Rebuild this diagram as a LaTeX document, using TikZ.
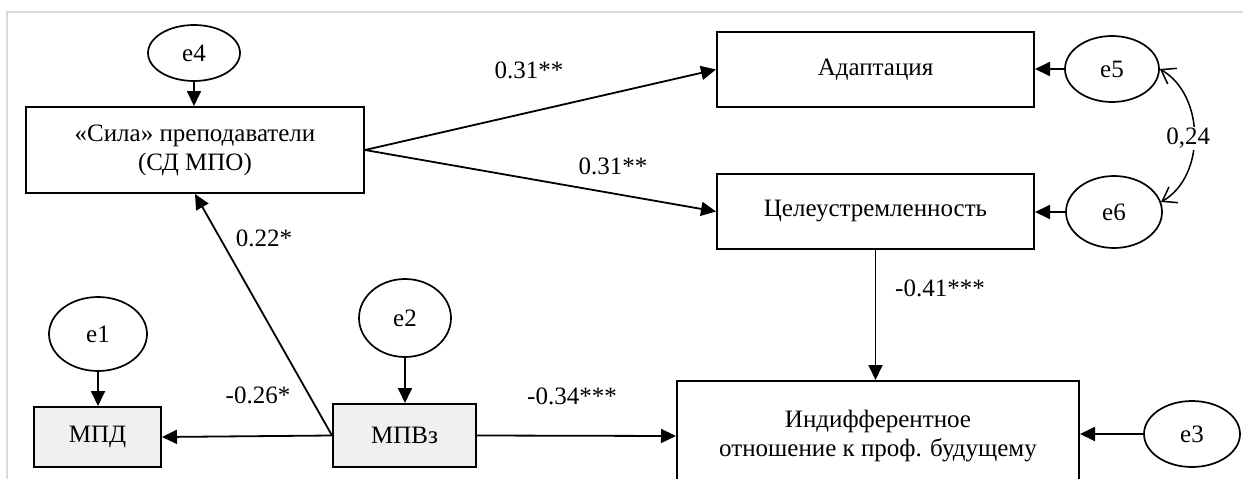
\documentclass[tikz,border=0pt]{standalone}
\usepackage{fontspec}
\setmainfont{Liberation Serif}
\usetikzlibrary{arrows.meta,shapes.geometric}
\definecolor{boxgray}{HTML}{F0F0F0}
\definecolor{framegray}{HTML}{DADADA}
\tikzset{
  base/.style={font=\fontsize{25}{29}\selectfont},
  box/.style={base, draw, line width=2pt, rectangle, inner sep=0pt, align=center},
  gbox/.style={box, fill=boxgray},
  err/.style={base, draw, line width=1.7pt, ellipse, inner sep=0pt},
  lbl/.style={base, inner sep=1pt},
  path/.style={line width=1.8pt, -{Triangle[length=15pt,width=14pt]}},
  corr/.style={line width=1.5pt, {Straight Barb[length=13pt,width=18pt]}-{Straight Barb[length=13pt,width=18pt]}}
}
\begin{document}
\begin{tikzpicture}[x=1pt,y=-1pt]
\useasboundingbox (0,0) rectangle (1243,479);
\clip (0,0) rectangle (1243,479);
\fill[white] (0,0) rectangle (1243,479);
\draw[framegray, line width=1.5pt] (7,479) -- (7,12) -- (1243,12);

% boxes
\node[box, minimum width=338pt, minimum height=86pt] (sila) at (195,150) {«Сила» преподаватели\\(СД МПО)};
\node[box, minimum width=317pt, minimum height=75pt] (adapt) at (875.5,69.5) {Адаптация};
\node[box, minimum width=317pt, minimum height=75pt] (cel) at (875.5,211.5) {Целеустремленность};
\node[box, minimum width=402pt, minimum height=110pt] (indif) at (878,436) {Индифферентное\\отношение к проф. будущему};
\node[gbox, minimum width=127pt, minimum height=60pt] (mpd) at (97.5,437) {МПД};
\node[gbox, minimum width=143pt, minimum height=63pt] (mpvz) at (404.5,435.5) {МПВз};

% error terms
\node[err, minimum width=98pt, minimum height=74pt] (e1) at (98,334) {e1};
\node[err, minimum width=92pt, minimum height=78pt] (e2) at (405,318) {e2};
\node[err, minimum width=96pt, minimum height=66pt] (e3) at (1192,434) {e3};
\node[err, minimum width=92pt, minimum height=56pt] (e4) at (194,53) {e4};
\node[err, minimum width=94pt, minimum height=66pt] (e5) at (1112,69) {e5};
\node[err, minimum width=96pt, minimum height=72pt] (e6) at (1114,212) {e6};

% error arrows
\draw[path] (e4.south) -- (e4.south |- sila.north);
\draw[path] (e1.south) -- (e1.south |- mpd.north);
\draw[path] (e2.south) -- (e2.south |- mpvz.north);
\draw[path] (e3.west) -- (e3.west -| indif.east);
\draw[path] (e5.west) -- (e5.west -| adapt.east);
\draw[path] (e6.west) -- (e6.west -| cel.east);

% structural paths
\draw[path] (sila.east) -- (adapt.west);
\draw[path] (sila.east) -- (cel.west);
\draw[path] (mpvz.west) -- (sila.south);
\draw[path] (mpvz.west) -- (mpd.east);
\draw[path] (mpvz.east) -- (indif.west);
\draw[path] (cel.south) -- (cel.south |- indif.north);

% correlation
\draw[corr] (e5.east) to[out=-30,in=30] node[lbl, fill=white, xshift=-6pt, yshift=-3pt] (l024) {0,24} (e6.12);

% coefficient labels
\node[lbl] (l1) at (529,70) {0.31**};
\node[lbl] (l2) at (613,166) {0.31**};
\node[lbl] (l3) at (264,238) {0.22*};
\node[lbl] (l4) at (258,395) {-0.26*};
\node[lbl] (l5) at (572,396) {-0.34***};
\node[lbl, anchor=west] (l6) at (894,288) {-0.41***};
\end{tikzpicture}
\end{document}
